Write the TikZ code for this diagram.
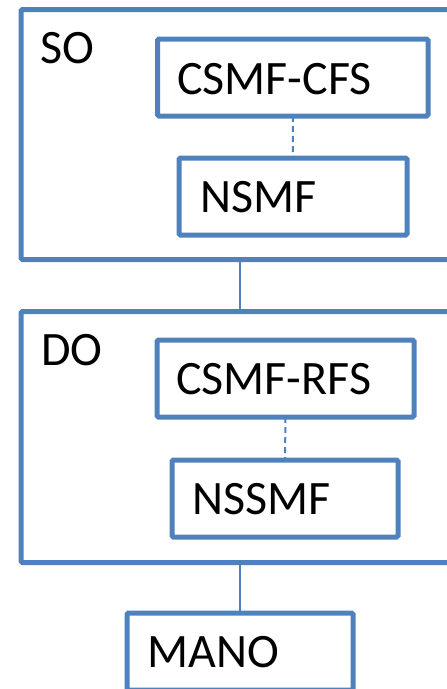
\documentclass[tikz,border=0pt]{standalone}
\usepackage{fontspec}
\setmainfont{Carlito}
\definecolor{obox}{RGB}{79,129,189}
\begin{document}
\begin{tikzpicture}[x=1pt,y=-1pt,
  box/.style={draw=obox,line width=5pt,rounded corners=1.5pt,inner sep=0pt,outer sep=0pt,fill=none},
  lbl/.style={anchor=base west,inner sep=0pt,font=\fontsize{48}{52}\selectfont},
  link/.style={draw=obox,line width=2pt},
  dlink/.style={draw=obox,line width=2pt,dash pattern=on 6pt off 4pt}]
\useasboundingbox (0,0) rectangle (447,689);
\clip (0,0) rectangle (447,689);
% outer boxes
\node[box,minimum width=438pt,minimum height=250pt] (so) at (240,134.5) {};
\node[box,minimum width=438pt,minimum height=251pt] (do) at (240,437) {};
\node[box,minimum width=226pt,minimum height=77pt] (mano) at (240,651.5) {};
% inner boxes
\node[box,minimum width=270.5pt,minimum height=77pt] (cfs) at (292.75,77.5) {};
\node[box,minimum width=228pt,minimum height=77pt] (nsmf) at (293,196.5) {};
\node[box,minimum width=257pt,minimum height=77pt] (rfs) at (285.5,378.5) {};
\node[box,minimum width=226pt,minimum height=77pt] (nssmf) at (285,498.5) {};
% labels
\node[lbl] (tso) at (40,63) {SO};
\node[lbl] (tdo) at (41,365) {DO};
\node[lbl] (tcfs) at (177,94) {CSMF-CFS};
\node[lbl] (tnsmf) at (200,212) {NSMF};
\node[lbl] (trfs) at (176,394) {CSMF-RFS};
\node[lbl] (tnssmf) at (192,514) {NSSMF};
\node[lbl] (tmano) at (147,667) {MANO};
% connectors
\draw[link] (so.south) -- (do.north);
\draw[link] (do.south) -- (mano.north);
\draw[dlink] (cfs.south) -- (nsmf.north);
\draw[dlink] (rfs.south) -- (nssmf.north);
\end{tikzpicture}
\end{document}
